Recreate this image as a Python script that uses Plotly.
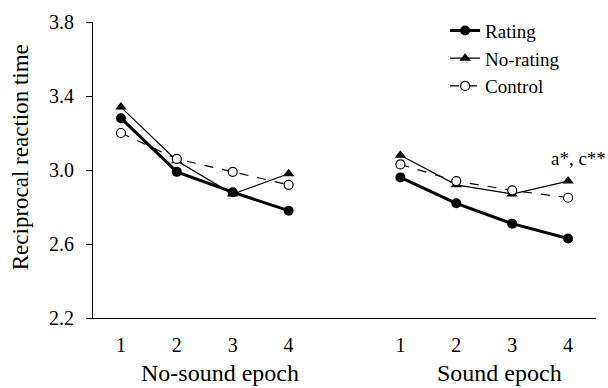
import plotly.graph_objects as go

tick_labels = ["1", "2", "3", "4", "1", "2", "3", "4"]
x_pos = [1, 2, 3, 4, 6, 7, 8, 9]
groups = ["No-sound epoch", "Sound epoch"]
group_centers = [2.5, 7.5]

rating = [3.28, 2.99, 2.88, 2.78, 2.96, 2.82, 2.71, 2.63]
no_rating = [3.34, 3.05, 2.87, 2.98, 3.08, 2.92, 2.87, 2.94]
control = [3.20, 3.06, 2.99, 2.92, 3.03, 2.94, 2.89, 2.85]

FONT = "Liberation Serif"

def split(vals):
    # insert a gap between epochs
    return vals[:4] + [None] + vals[4:], x_pos[:4] + [5] + x_pos[4:]

fig = go.Figure()
y, x = split(rating)
fig.add_trace(go.Scatter(x=x, y=y, name="Rating", mode="lines+markers",
                         line=dict(color="black", width=3),
                         marker=dict(symbol="circle", size=10, color="black")))
y, x = split(no_rating)
fig.add_trace(go.Scatter(x=x, y=y, name="No-rating", mode="lines+markers",
                         line=dict(color="black", width=1.2),
                         marker=dict(symbol="triangle-up", size=10, color="black")))
y, x = split(control)
fig.add_trace(go.Scatter(x=x, y=y, name="Control", mode="lines+markers",
                         line=dict(color="black", width=1.2, dash="dash"),
                         marker=dict(symbol="circle", size=9, color="white",
                                     line=dict(color="black", width=1.2))))

annotations = [
    dict(x=9, y=3.06, xref="x", yref="y", text="a*, c**", showarrow=False,
         xanchor="center", yanchor="middle", xshift=10,
         font=dict(family=FONT, size=19, color="black")),
    dict(x=(20 - 93) / 503, y=(318 - 154) / 302, xref="paper", yref="paper",
         text="Reciprocal reaction time", xanchor="center", yanchor="middle",
         showarrow=False, textangle=-90, font=dict(family=FONT, size=23, color="black")),
]
for g, c in zip(groups, group_centers):
    annotations.append(dict(x=c, y=0, xref="x", yref="paper", text=g, showarrow=False,
                            yanchor="top", yshift=-40, xshift=15,
                            font=dict(family=FONT, size=24, color="black")))

fig.update_layout(
    width=608, height=388,
    margin=dict(l=93, r=12, t=16, b=70),
    paper_bgcolor="white", plot_bgcolor="white",
    font=dict(family=FONT, size=19, color="black"),
    showlegend=True,
    legend=dict(x=0.70, y=1.035, xanchor="left", yanchor="top",
                bgcolor="rgba(0,0,0,0)", font=dict(family=FONT, size=19),
                itemwidth=30, tracegroupgap=0),
    annotations=annotations,
)
fig.update_xaxes(range=[0.5, 9.5], tickmode="array", tickvals=x_pos, ticktext=tick_labels,
                 showgrid=False, zeroline=False, showline=True, linecolor="black",
                 linewidth=1.2, ticks="", ticklabelstandoff=9,
                 tickfont=dict(family=FONT, size=20, color="black"))
fig.update_yaxes(range=[2.2, 3.8], dtick=0.4, tick0=2.2, tickformat=".1f",
                 showgrid=False, zeroline=False, showline=True, linecolor="black",
                 linewidth=1.2, ticks="outside", ticklen=6, tickcolor="black",
                 ticklabelstandoff=8,
                 tickfont=dict(family=FONT, size=20, color="black"))

fig.write_html("out.html")
